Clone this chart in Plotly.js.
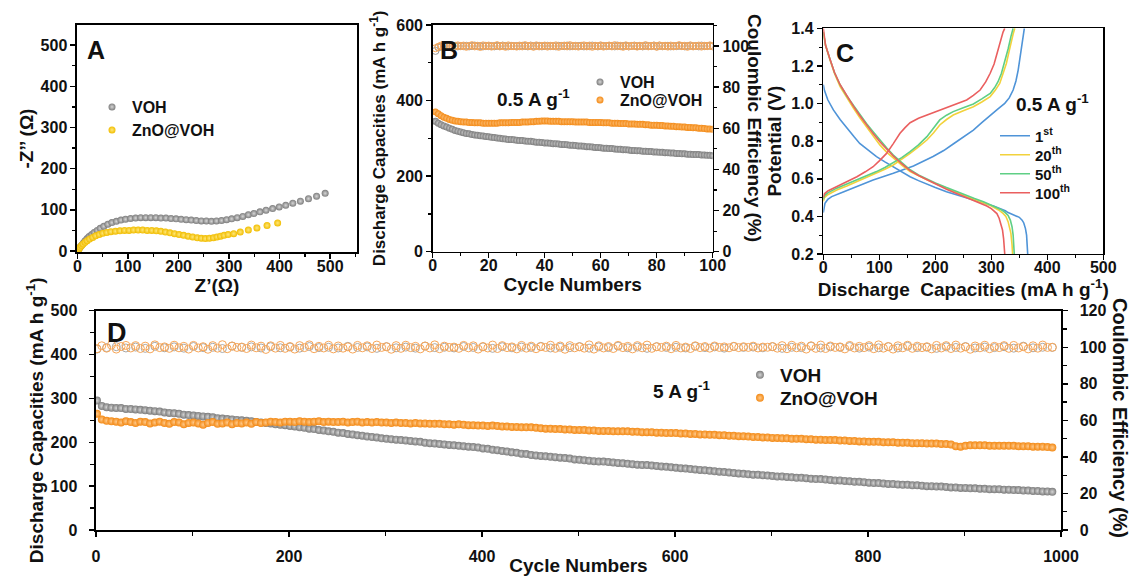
<!DOCTYPE html>
<html>
<head>
<meta charset="utf-8">
<script src="https://cdn.plot.ly/plotly-3.0.1.min.js"></script>
<style>html,body{margin:0;padding:0;background:#fff;}#chart{width:1131px;height:576px;}</style>
</head>
<body>
<div id="chart"></div>
<script>
// ---------- Panel A: Nyquist plots ----------
const eisVOH_x = [0, 2, 4, 6, 9, 12, 15, 19, 23, 28, 33, 39, 45, 52, 60, 68, 77, 86, 95, 105, 115, 125, 135, 145, 155, 165, 175, 185, 195, 205, 215, 225, 235, 245, 255, 265, 275, 285, 295, 305, 316, 327, 338, 349, 361, 373, 386, 399, 412, 426, 441, 457, 473, 490];
const eisVOH_y = [0, 3, 7, 11, 15, 20, 25, 30, 35, 40, 45, 50, 55, 60, 65, 69, 72, 75, 77, 79, 80, 81, 81, 81, 81, 80, 80, 79, 78, 77, 76, 75, 74, 73, 73, 72, 73, 74, 76, 78, 81, 84, 88, 91, 95, 99, 103, 107, 111, 116, 121, 127, 133, 140];
const eisZnO_x = [0, 1, 3, 5, 8, 11, 15, 19, 24, 30, 36, 43, 50, 58, 66, 75, 84, 93, 102, 111, 120, 129, 138, 147, 156, 165, 174, 183, 192, 201, 210, 219, 228, 237, 245, 253, 261, 269, 276, 283, 290, 298, 309, 322, 338, 355, 375, 396];
const eisZnO_y = [0, 2, 5, 9, 13, 17, 21, 25, 29, 33, 37, 40, 43, 45, 47, 48, 49, 50, 50, 51, 51, 51, 50, 50, 49, 48, 46, 44, 42, 40, 38, 36, 34, 32, 31, 30, 31, 32, 34, 36, 38, 40, 42, 46, 51, 56, 62, 68];

// ---------- Panel B: cycling at 0.5 A/g (cycles 1..100) ----------
const capB_VOH = [
 345, 340, 336, 333, 330, 327, 324, 321, 319, 317,
 315, 313, 312, 310, 309, 308, 307, 306, 305, 304,
 303, 302, 301, 300, 299, 298, 297, 297, 296, 295,
 294, 294, 293, 292, 292, 291, 290, 290, 289, 288,
 288, 287, 286, 286, 285, 284, 284, 283, 282, 282,
 281, 280, 280, 279, 278, 278, 277, 276, 276, 275,
 274, 274, 273, 273, 272, 271, 271, 270, 270, 269,
 268, 268, 267, 267, 266, 266, 265, 265, 264, 264,
 263, 263, 262, 262, 261, 261, 260, 260, 259, 259,
 258, 258, 257, 257, 257, 256, 256, 255, 255, 254];
const capB_ZnO = [
 370, 365, 360, 356, 353, 350, 348, 346, 345, 344,
 343, 343, 342, 342, 341, 341, 341, 340, 340, 340,
 340, 340, 340, 341, 341, 341, 341, 342, 342, 342,
 342, 343, 343, 343, 344, 344, 345, 345, 346, 346,
 346, 345, 345, 345, 345, 344, 344, 344, 344, 344,
 343, 343, 343, 343, 343, 342, 342, 342, 342, 342,
 341, 341, 341, 340, 340, 340, 339, 339, 339, 338,
 338, 338, 337, 337, 337, 336, 336, 335, 335, 335,
 334, 334, 333, 333, 332, 332, 331, 331, 330, 330,
 329, 329, 328, 328, 327, 327, 326, 325, 325, 324];
const ceB_VOH = [
 97.6, 99.3, 99.7, 99.9, 99.8, 100.0, 99.9, 100.1, 99.8, 100.0,
 99.9, 100.1, 99.8, 100.0, 100.2, 99.9, 100.0, 99.8, 100.1, 99.9,
 100.0, 99.8, 100.1, 99.9, 100.2, 100.0, 99.8, 100.1, 99.9, 100.0,
 99.9, 100.1, 100.0, 99.8, 100.2, 99.9, 100.0, 100.1, 99.8, 100.0,
 100.1, 99.9, 100.0, 99.8, 100.1, 100.0, 99.9, 100.2, 99.8, 100.0,
 99.9, 100.0, 100.1, 99.8, 100.0, 99.9, 100.2, 100.0, 99.8, 100.1,
 100.0, 99.9, 100.1, 100.0, 99.8, 100.2, 99.9, 100.0, 100.1, 99.8,
 100.0, 100.1, 99.9, 100.0, 99.8, 100.1, 100.0, 99.9, 100.2, 99.8,
 100.1, 99.9, 100.0, 100.1, 99.8, 100.0, 99.9, 100.1, 100.0, 99.8,
 100.0, 100.1, 99.9, 100.0, 99.8, 100.2, 99.9, 100.0, 100.1, 99.9];
const ceB_ZnO = [
 98.9, 99.6, 100.2, 99.8, 100.4, 99.5, 100.1, 99.7, 100.3, 99.9,
 100.2, 99.6, 100.0, 100.4, 99.8, 100.1, 99.5, 100.3, 99.9, 100.2,
 99.7, 100.0, 100.4, 99.8, 100.1, 99.6, 100.3, 99.9, 100.0, 99.7,
 100.2, 99.8, 100.4, 99.9, 100.1, 99.6, 100.3, 99.8, 100.0, 100.2,
 99.7, 100.1, 99.9, 100.3, 99.6, 100.0, 100.2, 99.8, 100.4, 99.9,
 100.1, 99.7, 100.0, 100.3, 99.8, 100.2, 99.6, 100.1, 99.9, 100.3,
 99.7, 100.0, 100.2, 99.8, 100.4, 99.9, 100.1, 99.6, 100.3, 99.8,
 100.0, 100.2, 99.7, 100.1, 99.9, 100.4, 99.8, 100.0, 100.2, 99.6,
 100.3, 99.9, 100.1, 99.7, 100.2, 99.8, 100.0, 100.4, 99.9, 100.1,
 99.6, 100.3, 99.8, 100.0, 100.2, 99.7, 100.1, 99.9, 100.3, 99.8];

// ---------- Panel C: charge/discharge profiles (capacity, potential) ----------
const c1_dis_x = [0, 2, 8, 18, 30, 42, 55, 65, 80, 95, 110, 125, 140, 155, 170, 185, 200, 220, 240, 256, 275, 292, 305, 315, 325, 330, 338, 345, 350, 355, 358, 361, 363, 364, 365];
const c1_dis_y = [1.10, 1.07, 1.02, 0.966, 0.915, 0.868, 0.823, 0.788, 0.752, 0.718, 0.690, 0.664, 0.637, 0.611, 0.590, 0.570, 0.553, 0.531, 0.512, 0.496, 0.480, 0.466, 0.454, 0.443, 0.430, 0.420, 0.410, 0.403, 0.395, 0.380, 0.365, 0.335, 0.30, 0.25, 0.20];
const c1_chg_x = [0, 1, 3, 8, 15, 30, 45, 60, 89, 125, 161, 196, 215, 232, 250, 268, 283, 298, 312, 324, 332, 339, 344, 348, 351, 354, 357, 359];
const c1_chg_y = [0.42, 0.45, 0.47, 0.49, 0.505, 0.523, 0.541, 0.558, 0.593, 0.629, 0.668, 0.718, 0.750, 0.785, 0.822, 0.859, 0.898, 0.939, 0.972, 1.001, 1.030, 1.072, 1.12, 1.178, 1.24, 1.302, 1.36, 1.40];
const c20_dis_x = [0, 4, 12, 20, 30, 42, 54, 65, 77, 89, 101, 113, 125, 140, 155, 170, 185, 200, 220, 238, 256, 270, 286, 296, 304, 313, 321, 326, 330, 333, 335, 337, 338];
const c20_dis_y = [1.38, 1.31, 1.232, 1.16, 1.09, 1.03, 0.975, 0.925, 0.877, 0.828, 0.78, 0.742, 0.709, 0.672, 0.638, 0.614, 0.594, 0.575, 0.549, 0.527, 0.505, 0.490, 0.473, 0.461, 0.448, 0.434, 0.416, 0.40, 0.372, 0.34, 0.31, 0.25, 0.20];
const c20_chg_x = [0, 2, 8, 24, 42, 60, 78, 95, 110, 125, 140, 155, 170, 185, 197, 208, 220, 232, 250, 268, 283, 298, 307, 315, 321, 327, 332, 336, 339, 342];
const c20_chg_y = [0.48, 0.50, 0.515, 0.540, 0.562, 0.585, 0.607, 0.629, 0.651, 0.673, 0.702, 0.735, 0.770, 0.806, 0.845, 0.886, 0.915, 0.939, 0.962, 0.983, 1.008, 1.037, 1.07, 1.107, 1.16, 1.214, 1.28, 1.338, 1.37, 1.40];
const c50_dis_x = [0, 4, 12, 20, 30, 42, 54, 65, 77, 89, 101, 113, 125, 140, 155, 170, 185, 200, 220, 238, 256, 270, 286, 298, 308, 318, 325, 330, 334, 337, 339, 340, 341];
const c50_dis_y = [1.38, 1.31, 1.235, 1.165, 1.10, 1.04, 0.99, 0.942, 0.894, 0.85, 0.806, 0.765, 0.726, 0.685, 0.648, 0.620, 0.598, 0.578, 0.553, 0.531, 0.510, 0.495, 0.478, 0.463, 0.450, 0.435, 0.420, 0.405, 0.38, 0.345, 0.30, 0.25, 0.20];
const c50_chg_x = [0, 2, 8, 24, 42, 60, 78, 95, 110, 125, 140, 155, 170, 185, 197, 208, 220, 232, 250, 268, 283, 298, 306, 312, 318, 324, 330, 335, 339];
const c50_chg_y = [0.49, 0.51, 0.525, 0.550, 0.572, 0.594, 0.616, 0.638, 0.660, 0.685, 0.712, 0.744, 0.780, 0.824, 0.868, 0.913, 0.938, 0.957, 0.978, 0.998, 1.025, 1.054, 1.085, 1.116, 1.16, 1.223, 1.29, 1.356, 1.40];
const c100_dis_x = [0, 4, 12, 20, 30, 42, 54, 65, 77, 89, 101, 113, 125, 140, 155, 170, 185, 200, 220, 238, 256, 274, 292, 300, 306, 310, 314, 317, 320, 322, 323, 324];
const c100_dis_y = [1.40, 1.31, 1.235, 1.165, 1.10, 1.04, 0.985, 0.936, 0.886, 0.84, 0.797, 0.758, 0.721, 0.680, 0.643, 0.617, 0.594, 0.575, 0.544, 0.522, 0.501, 0.478, 0.455, 0.441, 0.428, 0.415, 0.39, 0.36, 0.328, 0.28, 0.24, 0.20];
const c100_chg_x = [0, 2, 8, 24, 42, 60, 75, 89, 100, 113, 125, 137, 146, 155, 170, 185, 200, 220, 238, 256, 268, 280, 290, 298, 305, 310, 314, 318, 321, 324];
const c100_chg_y = [0.50, 0.52, 0.535, 0.558, 0.585, 0.611, 0.637, 0.664, 0.695, 0.735, 0.787, 0.842, 0.872, 0.898, 0.922, 0.939, 0.952, 0.975, 0.996, 1.019, 1.043, 1.072, 1.115, 1.161, 1.21, 1.267, 1.31, 1.356, 1.38, 1.40];
const cycleNamesC = ['1<sup>st</sup>', '20<sup>th</sup>', '50<sup>th</sup>', '100<sup>th</sup>'];

// ---------- Panel D: long cycling at 5 A/g (every 5th cycle from 1) ----------
const capD_VOH = [
 295, 283, 280, 279, 278, 278, 276, 276, 275, 274,
 273, 272, 271, 270, 268, 267, 266, 265, 263, 262,
 261, 260, 259, 258, 257, 255, 254, 253, 252, 251,
 250, 249, 248, 246, 245, 244, 243, 241, 240, 239,
 237, 236, 234, 233, 231, 230, 228, 227, 225, 224,
 222, 221, 219, 218, 216, 215, 213, 212, 211, 209,
 208, 207, 206, 205, 204, 203, 202, 201, 199, 198,
 197, 196, 195, 194, 193, 192, 191, 190, 189, 188,
 186, 185, 183, 182, 180, 179, 177, 176, 174, 173,
 171, 170, 169, 168, 167, 166, 165, 164, 163, 161,
 160, 159, 158, 157, 156, 156, 155, 154, 153, 152,
 151, 150, 149, 148, 148, 147, 146, 145, 144, 143,
 142, 141, 140, 139, 138, 137, 136, 135, 134, 133,
 132, 131, 130, 129, 128, 127, 126, 126, 125, 124,
 123, 122, 122, 121, 120, 119, 119, 118, 117, 116,
 116, 115, 114, 113, 113, 112, 111, 110, 110, 109,
 108, 107, 107, 106, 105, 105, 104, 103, 103, 102,
 102, 101, 100, 100, 99, 99, 98, 97, 97, 96,
 96, 95, 95, 94, 94, 93, 93, 93, 92, 92,
 91, 91, 90, 90, 89, 89, 88, 88, 87];
const capD_ZnO = [
 265, 252, 249, 248, 247, 245, 248, 246, 244, 247,
 246, 243, 245, 247, 244, 242, 246, 245, 241, 244,
 245, 243, 240, 244, 246, 242, 243, 245, 241, 244,
 243, 245, 242, 246, 244, 245, 247, 246, 245, 247,
 247, 246, 248, 247, 246, 247, 248, 246, 247, 246,
 246, 247, 245, 246, 247, 245, 246, 245, 246, 245,
 245, 244, 245, 244, 244, 243, 244, 243, 243, 242,
 242, 242, 241, 241, 240, 241, 240, 239, 239, 238,
 238, 237, 238, 237, 236, 236, 235, 235, 234, 234,
 234, 233, 232, 231, 231, 230, 230, 229, 229, 228,
 228, 228, 227, 227, 226, 226, 226, 225, 225, 225,
 225, 224, 224, 223, 223, 223, 222, 222, 221, 221,
 221, 220, 220, 219, 219, 218, 218, 217, 217, 216,
 216, 215, 215, 214, 214, 213, 212, 212, 211, 211,
 210, 210, 209, 209, 208, 208, 208, 207, 207, 206,
 206, 205, 205, 205, 204, 204, 203, 203, 202, 202,
 201, 201, 201, 200, 200, 200, 199, 199, 199, 198,
 198, 198, 197, 197, 197, 196, 196, 195, 191, 190,
 192, 193, 193, 193, 193, 192, 192, 192, 192, 192,
 192, 191, 191, 191, 190, 190, 190, 189, 188];
const ceD_ZnO = [
 99.2, 100.8, 99.5, 101.2, 99.0, 100.4, 101.0, 99.6, 100.9, 99.3,
 100.6, 99.1, 101.3, 99.8, 100.2, 99.4, 101.1, 99.7, 100.5, 99.0,
 101.0, 99.6, 100.3, 98.9, 100.9, 99.5, 101.4, 99.2, 100.7, 99.9,
 100.1, 99.3, 101.2, 99.7, 100.6, 98.8, 100.8, 99.5, 101.0, 99.4,
 100.4, 99.0, 100.9, 99.8, 101.3, 99.2, 100.5, 99.6, 101.1, 99.1,
 100.7, 99.5, 100.2, 99.0, 101.0, 99.7, 100.8, 99.3, 101.2, 99.9,
 100.3, 98.9, 100.9, 99.4, 101.1, 99.8, 100.5, 99.1, 100.7, 99.6,
 101.3, 99.2, 100.6, 99.9, 100.1, 99.4, 101.0, 99.7, 100.8, 99.0,
 100.4, 99.6, 101.2, 99.3, 100.9, 99.8, 100.2, 99.1, 101.0, 99.5,
 100.6, 99.2, 100.3, 99.9, 101.1, 99.4, 100.7, 98.9, 100.9, 99.7,
 100.2, 99.5, 101.3, 99.0, 100.8, 99.6, 100.4, 99.3, 101.0, 99.8,
 100.5, 99.1, 100.9, 99.7, 101.2, 99.4, 100.3, 99.9, 100.6, 99.2,
 101.0, 99.6, 100.1, 99.3, 100.8, 99.8, 100.4, 99.5, 100.7, 99.9,
 100.2, 99.7, 100.5, 99.8, 100.3, 99.9, 100.6, 99.6, 100.1, 100.0,
 100.4, 99.5, 100.9, 99.2, 101.1, 99.7, 100.6, 99.0, 100.8, 99.4,
 101.2, 99.3, 100.7, 99.9, 100.2, 99.1, 101.0, 99.6, 100.5, 99.8,
 100.9, 99.2, 101.3, 99.5, 100.4, 99.0, 100.8, 99.7, 101.1, 99.4,
 100.6, 99.8, 100.3, 99.1, 101.0, 99.6, 100.9, 99.3, 101.2, 99.5,
 100.2, 98.9, 100.7, 99.7, 101.1, 99.2, 100.5, 99.8, 100.9, 99.4,
 101.0, 99.6, 100.3, 99.1, 100.8, 99.5, 101.2, 99.9, 100.0];
// VOH coulombic efficiency, every 10th cycle from 1
const ceD_VOH = [
 99.0, 99.8, 100.3, 99.6, 100.1, 99.4, 100.5, 99.7, 100.2, 99.5,
 100.4, 99.8, 100.0, 99.3, 100.6, 99.9, 100.2, 99.6, 100.3, 99.7,
 100.1, 99.5, 100.4, 99.8, 100.0, 99.6, 100.5, 99.9, 100.2, 99.4,
 100.3, 99.7, 100.1, 99.5, 100.6, 99.8, 100.0, 99.6, 100.4, 99.9,
 100.2, 99.4, 100.3, 99.7, 100.1, 99.9, 100.5, 99.6, 100.0, 99.8,
 100.4, 99.5, 100.2, 99.8, 100.6, 99.7, 100.1, 99.4, 100.3, 99.9,
 100.0, 99.6, 100.5, 99.8, 100.2, 99.5, 100.4, 99.9, 100.1, 99.7,
 100.3, 99.4, 100.0, 99.8, 100.6, 99.6, 100.2, 99.9, 100.4, 99.5,
 100.1, 99.7, 100.3, 99.6, 100.5, 99.8, 100.0, 99.4, 100.2, 99.9,
 100.4, 99.6, 100.1, 99.8, 100.3, 99.5, 100.6, 99.7, 100.0, 99.9];

// cycle indices
const cycB = capB_VOH.map((_, i) => i + 1);
const cycD = capD_VOH.map((_, i) => 1 + 5 * i);
const cycD10 = ceD_VOH.map((_, i) => 1 + 10 * i);

// ---------- styling ----------
const FAM = 'Liberation Sans, Arial, Helvetica, sans-serif';
const F = (size) => ({family: FAM, size: size, color: '#111', weight: 'bold'});
const GREY = {color: '#7d7d7d', gradient: {type: 'radial', color: '#d6d6d6'}, line: {width: 0}};
const ORANGE = {color: '#f38a16', gradient: {type: 'radial', color: '#ffc98a'}, line: {width: 0}};
const YELLOW = {color: '#f1bd00', gradient: {type: 'radial', color: '#ffe77a'}, line: {width: 0}};
const cYel = '#f2d23c', cBlue = '#4f94d8', cGreen = '#5fcf85', cRed = '#ea5f5f';

function minorTicks(dt, len) {
  return {dtick: dt, ticks: 'outside', ticklen: len || 3, tickwidth: 1.2, tickcolor: '#000'};
}
function axis(extra) {
  return Object.assign({
    showline: true, linecolor: '#000', linewidth: 1.5, mirror: true,
    ticks: 'outside', ticklen: 5, tickwidth: 1.5, tickcolor: '#000',
    showgrid: false, zeroline: false, tickfont: F(16)
  }, extra);
}

const data = [
  // A
  {x: eisVOH_x, y: eisVOH_y, xaxis: 'x', yaxis: 'y', type: 'scatter', mode: 'markers', name: 'VOH',
   marker: Object.assign({size: 7, symbol: 'circle'}, GREY), legend: 'legend'},
  {x: eisZnO_x, y: eisZnO_y, xaxis: 'x', yaxis: 'y', type: 'scatter', mode: 'markers', name: 'ZnO@VOH',
   marker: Object.assign({size: 7, symbol: 'circle'}, YELLOW), legend: 'legend2'},
  // B capacities
  {x: cycB, y: capB_VOH, xaxis: 'x2', yaxis: 'y2', type: 'scatter', mode: 'markers', name: 'VOH',
   marker: Object.assign({size: 7}, GREY), legend: 'legend3'},
  {x: cycB, y: capB_ZnO, xaxis: 'x2', yaxis: 'y2', type: 'scatter', mode: 'markers', name: 'ZnO@VOH',
   marker: Object.assign({size: 7}, ORANGE), legend: 'legend4'},
  // B coulombic efficiency
  {x: cycB, y: ceB_VOH, xaxis: 'x2', yaxis: 'y3', type: 'scatter', mode: 'markers', showlegend: false,
   marker: {size: 7, symbol: 'circle-open', color: '#9a9a9a', line: {width: 1}}},
  {x: cycB, y: ceB_ZnO, xaxis: 'x2', yaxis: 'y3', type: 'scatter', mode: 'markers', showlegend: false,
   marker: {size: 7, symbol: 'circle-open', color: '#f8a657', line: {width: 1}}},
  // C
  {x: c1_dis_x.concat([null], c1_chg_x), y: c1_dis_y.concat([null], c1_chg_y), xaxis: 'x3', yaxis: 'y4',
   type: 'scatter', mode: 'lines', name: cycleNamesC[0], line: {color: cBlue, width: 1.6}, legend: 'legend5'},
  {x: c20_dis_x.concat([null], c20_chg_x), y: c20_dis_y.concat([null], c20_chg_y), xaxis: 'x3', yaxis: 'y4',
   type: 'scatter', mode: 'lines', name: cycleNamesC[1], line: {color: cYel, width: 1.6}, legend: 'legend6'},
  {x: c50_dis_x.concat([null], c50_chg_x), y: c50_dis_y.concat([null], c50_chg_y), xaxis: 'x3', yaxis: 'y4',
   type: 'scatter', mode: 'lines', name: cycleNamesC[2], line: {color: cGreen, width: 1.6}, legend: 'legend7'},
  {x: c100_dis_x.concat([null], c100_chg_x), y: c100_dis_y.concat([null], c100_chg_y), xaxis: 'x3', yaxis: 'y4',
   type: 'scatter', mode: 'lines', name: cycleNamesC[3], line: {color: cRed, width: 1.6}, legend: 'legend8'},
  // D capacities
  {x: cycD, y: capD_VOH, xaxis: 'x4', yaxis: 'y5', type: 'scatter', mode: 'markers', name: 'VOH',
   marker: Object.assign({size: 8}, GREY), legend: 'legend9'},
  {x: cycD, y: capD_ZnO, xaxis: 'x4', yaxis: 'y5', type: 'scatter', mode: 'markers', name: 'ZnO@VOH',
   marker: Object.assign({size: 8}, ORANGE), legend: 'legend10'},
  // D coulombic efficiency
  {x: cycD10, y: ceD_VOH, xaxis: 'x4', yaxis: 'y6', type: 'scatter', mode: 'markers', showlegend: false,
   marker: {size: 8, symbol: 'circle-open', color: '#a8a8a8', line: {width: 1}}},
  {x: cycD, y: ceD_ZnO, xaxis: 'x4', yaxis: 'y6', type: 'scatter', mode: 'markers', showlegend: false,
   marker: {size: 8, symbol: 'circle-open', color: '#f8a657', line: {width: 1}}}
];

function leg(xpx, ypx, size) {
  return {x: xpx / 1131, y: 1 - ypx / 576, xanchor: 'left', yanchor: 'middle',
          bgcolor: 'rgba(0,0,0,0)', borderwidth: 0, font: F(size), itemclick: false, itemdoubleclick: false};
}
function ann(text, xpx, ypx, size, extra) {
  return Object.assign({text: text, xref: 'paper', yref: 'paper', x: xpx / 1131, y: 1 - ypx / 576,
    xanchor: 'center', yanchor: 'middle', showarrow: false, font: F(size)}, extra || {});
}

const layout = {
  width: 1131, height: 576, margin: {l: 0, r: 0, t: 0, b: 0},
  paper_bgcolor: '#fff', plot_bgcolor: '#fff', font: F(16), showlegend: true,
  // A
  xaxis: axis({domain: [0.06808, 0.31565], anchor: 'y', range: [-1, 553], dtick: 100, minor: minorTicks(50),
    ticklabelstandoff: -6, title: {text: 'Z’(Ω)', font: F(19), standoff: 4}}),
  yaxis: axis({domain: [0.5625, 0.95660], anchor: 'x', range: [-2.5, 549], dtick: 100, minor: minorTicks(50),
    title: {text: '-Z’’ (Ω)', font: F(19), standoff: 2}}),
  // B
  xaxis2: axis({domain: [0.38258, 0.63015], anchor: 'y2', range: [0, 100], dtick: 20, minor: minorTicks(10),
    ticklabelstandoff: -6, title: {text: 'Cycle Numbers', font: F(19), standoff: 0}}),
  yaxis2: axis({domain: [0.56302, 0.95660], anchor: 'x2', mirror: false, range: [0, 600], dtick: 200, minor: minorTicks(100),
    title: {text: 'Discharge Capacities (mA h g<sup>-1</sup>)', font: F(17), standoff: 6}}),
  yaxis3: axis({overlaying: 'y2', side: 'right', anchor: 'x2', mirror: false, range: [0, 110.2], dtick: 20, minor: minorTicks(10)}),
  // C
  xaxis3: axis({domain: [0.72794, 0.97551], anchor: 'y4', range: [0, 500], dtick: 100, minor: minorTicks(50),
    ticklabelstandoff: -7, title: {text: 'Discharge  Capacities (mA h g<sup>-1</sup>)', font: F(19), standoff: 0}}),
  yaxis4: axis({domain: [0.55903, 0.95087], anchor: 'x3', range: [0.1999, 1.4001], tick0: 0.2, dtick: 0.2, tickformat: '.1f', minor: minorTicks(0.1),
    title: {text: 'Potential (V)', font: F(19), standoff: 4}}),
  // D
  xaxis4: axis({domain: [0.08488, 0.93811], anchor: 'y5', range: [0, 1000], dtick: 200, minor: minorTicks(100, 4),
    ticklabelstandoff: 6, title: {text: 'Cycle Numbers', font: F(19), standoff: 0}}),
  yaxis5: axis({domain: [0.07986, 0.46059], anchor: 'x4', mirror: false, range: [0, 500], dtick: 100, minor: minorTicks(50, 4),
    ticklabelstandoff: 9, title: {text: 'Discharge Capacities (mA h g<sup>-1</sup>)', font: F(19), standoff: 2}}),
  yaxis6: axis({overlaying: 'y5', side: 'right', anchor: 'x4', mirror: false, range: [0, 120], dtick: 20, minor: minorTicks(10, 4),
    ticklabelstandoff: 9}),
  legend: leg(92, 107, 16), legend2: leg(92, 130, 16),
  legend3: leg(580, 82, 16), legend4: leg(580, 100, 16),
  legend5: leg(995, 136, 15), legend6: leg(995, 155, 15), legend7: leg(995, 174, 15), legend8: leg(995, 193, 15),
  legend9: leg(740, 375, 19), legend10: leg(740, 398, 19),
  annotations: [
    ann('A', 96, 50, 25), ann('B', 449, 50, 25), ann('C', 845, 53, 25), ann('D', 117, 333, 27),
    ann('0.5 A g<sup>-1</sup>', 533, 98, 19),
    ann('0.5 A g<sup>-1</sup>', 1052, 103, 19),
    ann('5 A g<sup>-1</sup>', 681, 390, 19),
    ann('Coulombic Efficiency (%)', 755, 128, 19, {textangle: 90}),
    ann('Coulombic Efficiency (%)', 1120, 418, 20, {textangle: 90})
  ]
};

Plotly.newPlot('chart', data, layout, {displayModeBar: false, staticPlot: true});
</script>
</body>
</html>
